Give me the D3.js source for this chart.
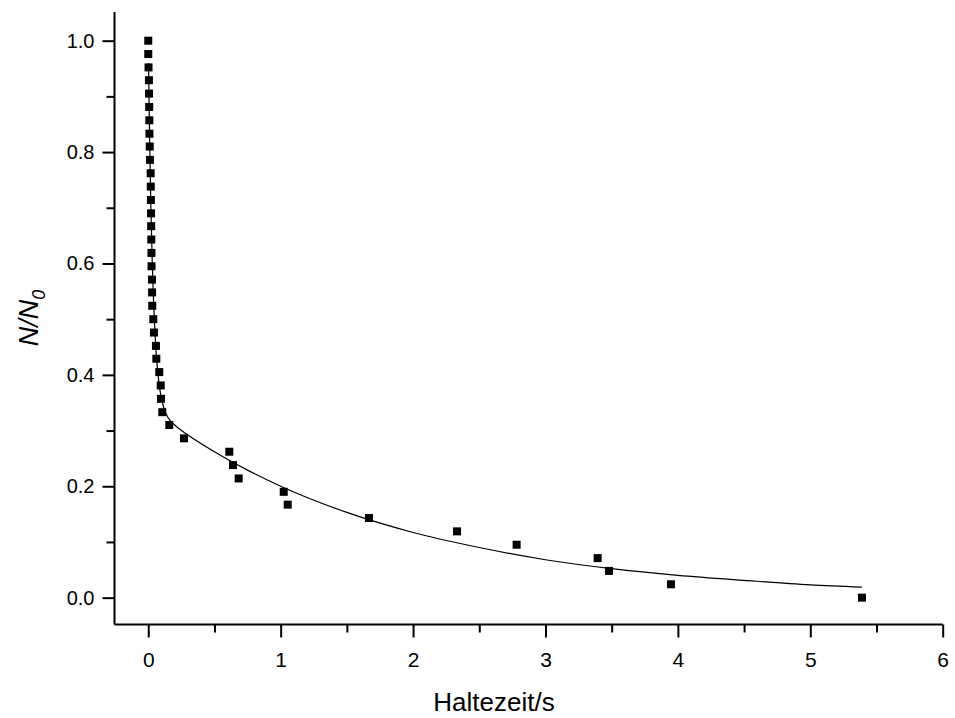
<!DOCTYPE html>
<html>
<head>
<meta charset="utf-8">
<script src="https://cdn.jsdelivr.net/npm/d3@7"></script>
<style>
  html, body { margin: 0; padding: 0; background: #fff; }
  svg { display: block; font-family: Arial, "Liberation Sans", sans-serif; }
</style>
</head>
<body>
<svg id="chart" width="955" height="718"></svg>
<script>
// Measured points: holding time (s) and N/N0
const pointX = [0.000, 0.000, 0.002, 0.005, 0.006, 0.007, 0.008, 0.009, 0.011, 0.013,
                0.018, 0.019, 0.020, 0.021, 0.022, 0.023, 0.024, 0.025, 0.028, 0.029,
                0.030, 0.038, 0.043, 0.058, 0.061, 0.083, 0.094, 0.096, 0.106, 0.159,
                0.270, 0.612, 0.640, 0.683, 1.023, 1.053, 1.667, 2.332, 2.782, 3.394,
                3.480, 3.948, 5.390];
const pointY = [1.000, 0.976, 0.952, 0.929, 0.905, 0.881, 0.857, 0.833, 0.810, 0.786,
                0.762, 0.738, 0.714, 0.690, 0.667, 0.643, 0.619, 0.595, 0.571, 0.548,
                0.524, 0.500, 0.476, 0.452, 0.429, 0.405, 0.381, 0.357, 0.333, 0.310,
                0.286, 0.262, 0.238, 0.214, 0.190, 0.167, 0.143, 0.119, 0.095, 0.071,
                0.048, 0.024, 0.000];

// Fitted curve
const fitX = [0.002, 0.01, 0.02, 0.03, 0.04, 0.05, 0.06, 0.08, 0.10, 0.12, 0.15, 0.20,
              0.30, 0.50, 0.75, 1.0, 1.5, 2.0, 2.5, 3.0, 3.5, 4.0, 4.5, 5.0, 5.39];
const fitY = [0.960, 0.829, 0.699, 0.603, 0.532, 0.479, 0.439, 0.387, 0.357, 0.339, 0.323, 0.310,
              0.292, 0.262, 0.229, 0.200, 0.153, 0.117, 0.090, 0.068, 0.052, 0.040, 0.031, 0.023, 0.019];

const xMajorTicks = [0, 1, 2, 3, 4, 5, 6];
const xMinorTicks = [0.5, 1.5, 2.5, 3.5, 4.5, 5.5];
const yMajorTicks = [0.0, 0.2, 0.4, 0.6, 0.8, 1.0];
const yMinorTicks = [0.1, 0.3, 0.5, 0.7, 0.9];

const xTitle = "Haltezeit/s";

const svg = d3.select("#chart");
const mLeft = 114.5, mRight = 942.7, mTop = 12, mBottom = 624.5;

const x = d3.scaleLinear().domain([-0.255, 6]).range([mLeft, mRight]);
const y = d3.scaleLinear().domain([-0.0482, 1.0515]).range([mBottom, mTop]);

// Axes
const gx = svg.append("g").attr("transform", `translate(0,${mBottom})`);
gx.call(d3.axisBottom(x).tickValues(xMajorTicks).tickSize(13).tickPadding(15).tickFormat(d3.format("d")));
const gxm = gx.append("g").call(d3.axisBottom(x).tickValues(xMinorTicks).tickSize(8).tickFormat(""));

const gy = svg.append("g").attr("transform", `translate(${mLeft},0)`);
gy.call(d3.axisLeft(y).tickValues(yMajorTicks).tickSize(12).tickPadding(8).tickFormat(d3.format(".1f")));
const gym = gy.append("g").call(d3.axisLeft(y).tickValues(yMinorTicks).tickSize(8).tickFormat(""));

gxm.select(".domain").remove();
gym.select(".domain").remove();
gx.select(".domain").attr("d", `M${mLeft},0H${mRight}`);
gy.select(".domain").attr("d", `M0,${mTop}V${mBottom}`);

svg.selectAll(".domain").attr("stroke", "#000").attr("stroke-width", 2);
svg.selectAll(".tick line").attr("stroke", "#000").attr("stroke-width", 2);
svg.selectAll(".tick text").attr("fill", "#000")
   .attr("font-family", "Arial, 'Liberation Sans', sans-serif");
gy.selectAll(".tick text").attr("font-size", 20);
gx.selectAll(".tick text").attr("font-size", 21);

// Fit line
const fitData = fitX.map((v, i) => [v, fitY[i]]);
svg.append("path")
  .datum(fitData)
  .attr("fill", "none")
  .attr("stroke", "#000")
  .attr("stroke-width", 1.2)
  .attr("d", d3.line().curve(d3.curveMonotoneX).x(d => x(d[0])).y(d => y(d[1])));

// Points
const pts = pointX.map((v, i) => [v, pointY[i]]);
const s = 8;
svg.append("g").selectAll("rect").data(pts).join("rect")
  .attr("x", d => x(d[0]) - s / 2)
  .attr("y", d => y(d[1]) - s / 2)
  .attr("width", s).attr("height", s)
  .attr("fill", "#000");

// Axis titles
svg.append("text")
  .attr("x", 494).attr("y", 711)
  .attr("text-anchor", "middle")
  .attr("font-size", 26)
  .text(xTitle);

const yt = svg.append("text")
  .attr("transform", `translate(38,318) rotate(-90)`)
  .attr("text-anchor", "middle")
  .attr("font-size", 27)
  .attr("font-style", "italic");
yt.append("tspan").text("N/N");
yt.append("tspan").attr("font-size", 18).attr("dy", 7).text("0");
</script>
</body>
</html>
